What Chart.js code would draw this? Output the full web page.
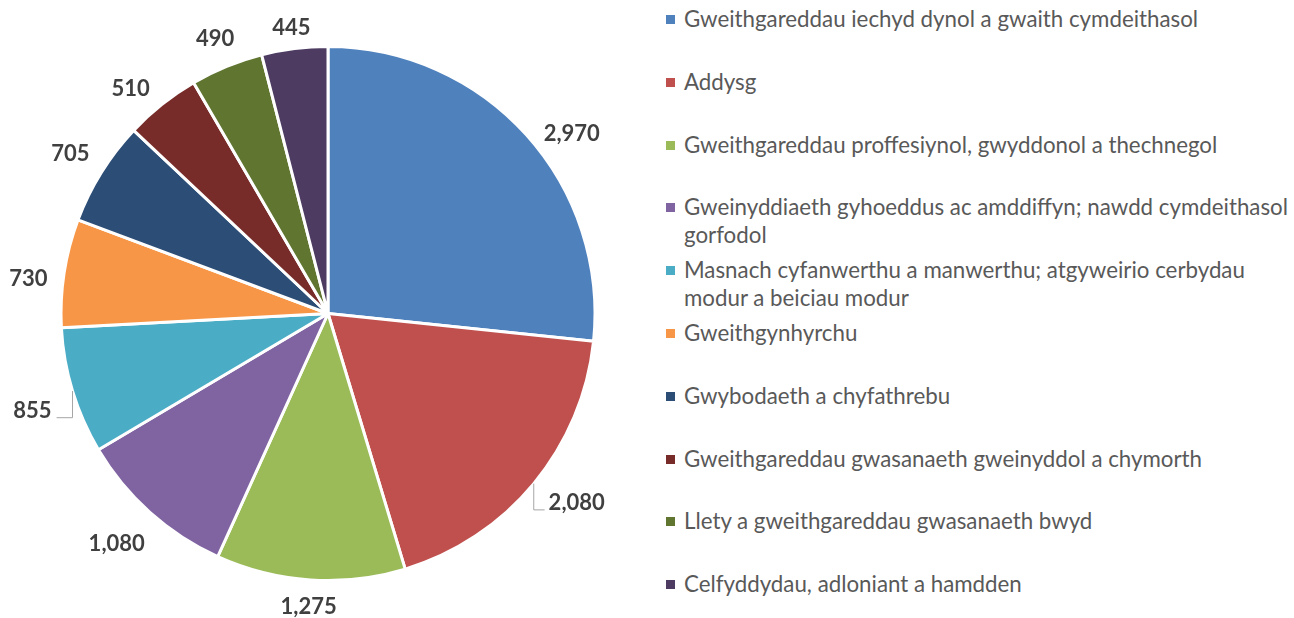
<!DOCTYPE html>
<html>
<head>
<meta charset="utf-8">
<script src="https://cdn.jsdelivr.net/npm/chart.js@4/dist/chart.umd.min.js"></script>
<style>
  html, body { margin: 0; padding: 0; background: #fff; }
  #wrap { position: relative; width: 1294px; height: 618px; overflow: hidden; }
  #pieBox { position: absolute; left: 0; top: 0; width: 656px; height: 618px; }
  #legend { position: absolute; left: 666px; top: 5px; width: 628px;
            font-family: Lato, "Open Sans", sans-serif; font-size: 22.3px; color: #595959; }
  .item { position: relative; height: 62.8px; line-height: 28px; padding-left: 18px; white-space: nowrap; }
  .item i { position: absolute; left: 0; top: 10px; width: 9px; height: 9px; }
</style>
</head>
<body>
<div id="wrap">
  <div id="pieBox"><canvas id="pie"></canvas></div>
  <div id="legend"></div>
</div>
<script>
// sectors (Welsh labels, line breaks as in the original legend)
var labels = [
  ['Gweithgareddau iechyd dynol a gwaith cymdeithasol'],
  ['Addysg'],
  ['Gweithgareddau proffesiynol, gwyddonol a thechnegol'],
  ['Gweinyddiaeth gyhoeddus ac amddiffyn; nawdd cymdeithasol', 'gorfodol'],
  ['Masnach cyfanwerthu a manwerthu; atgyweirio cerbydau', 'modur a beiciau modur'],
  ['Gweithgynhyrchu'],
  ['Gwybodaeth a chyfathrebu'],
  ['Gweithgareddau gwasanaeth gweinyddol a chymorth'],
  ['Llety a gweithgareddau gwasanaeth bwyd'],
  ['Celfyddydau, adloniant a hamdden']
];
var values = [2970, 2080, 1275, 1080, 855, 730, 705, 510, 490, 445];
var colors = ['#4F81BD', '#C0504D', '#9BBB59', '#8064A2', '#4BACC6',
              '#F79646', '#2C4D75', '#772C2A', '#5F7530', '#4D3B62'];

// legend
var lg = document.getElementById('legend');
for (var i = 0; i < labels.length; i++) {
  var d = document.createElement('div');
  d.className = 'item';
  d.innerHTML = '<i style="background:' + colors[i] + '"></i>' + labels[i].join('<br>');
  lg.appendChild(d);
}

// some labels were moved by hand in the original; two of them got leader lines
var nudges = { 0: [14, 26], 1: [10, -9], 3: [-6, 0], 4: [-5, 8], 5: [0, 10], 7: [-10, 10], 9: [0, 5] };
var leaders = { 1: true, 4: true };

var outsideLabels = {
  id: 'outsideLabels',
  afterDatasetsDraw: function(chart) {
    var ctx = chart.ctx;
    var meta = chart.getDatasetMeta(0);
    ctx.save();
    ctx.font = 'bold 22px Lato, "Open Sans", sans-serif';
    ctx.fillStyle = '#404040';
    ctx.textAlign = 'center';
    ctx.textBaseline = 'alphabetic';
    meta.data.forEach(function(arc, i) {
      var p = arc.getProps(['x', 'y', 'startAngle', 'endAngle', 'outerRadius'], true);
      var mid = (p.startAngle + p.endAngle) / 2;
      var txt = values[i].toLocaleString('en-US');
      var hw = ctx.measureText(txt).width / 2, hh = 8;
      var c = Math.cos(mid), s = Math.sin(mid);
      var r = p.outerRadius + 16 + hw * Math.abs(c) + hh * Math.abs(s);
      var lx = p.x + r * c, ly = p.y + r * s;
      if (nudges[i]) { lx += nudges[i][0]; ly += nudges[i][1]; }
      if (leaders[i]) {
        var ax = p.x + p.outerRadius * c, ay = p.y + p.outerRadius * s;
        var ey = ly + 8;
        var ex = lx < ax ? lx + hw + 5 : lx - hw - 4;
        ctx.strokeStyle = '#a6a6a6';
        ctx.lineWidth = 1;
        ctx.beginPath();
        ctx.moveTo(ax, ay);
        ctx.lineTo(ax, ey);
        ctx.lineTo(ex, ey);
        ctx.stroke();
      }
      ctx.fillText(txt, lx, ly + hh);
    });
    ctx.restore();
  }
};

new Chart(document.getElementById('pie'), {
  type: 'pie',
  data: {
    labels: labels.map(function(l) { return l.join(' '); }),
    datasets: [{
      data: values,
      backgroundColor: colors,
      borderColor: '#ffffff',
      borderWidth: 3,
      radius: 267
    }]
  },
  options: {
    responsive: true,
    maintainAspectRatio: false,
    animation: false,
    layout: { padding: { top: 47, bottom: 38 } },
    plugins: { legend: { display: false }, tooltip: { enabled: false } }
  },
  plugins: [outsideLabels]
});
</script>
</body>
</html>
